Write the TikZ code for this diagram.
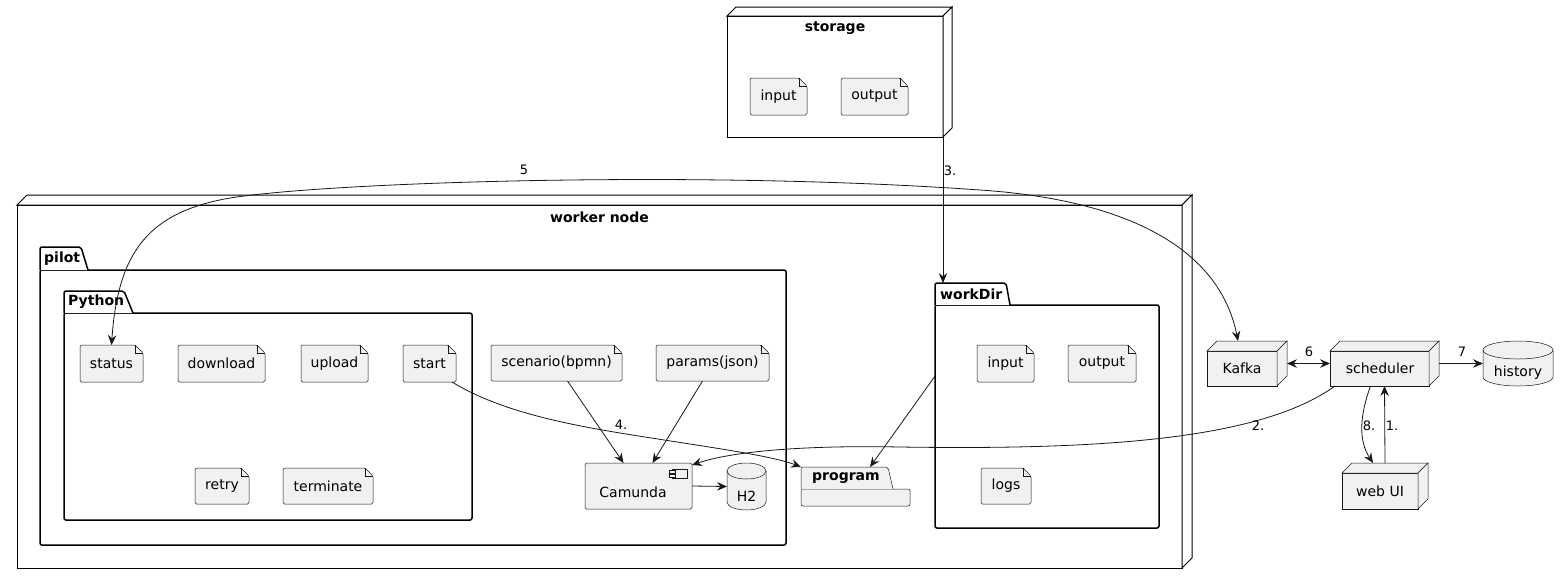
\documentclass[tikz,border=0pt]{standalone}
\usepackage{fontspec}
\setmainfont{DejaVu Sans}
\usetikzlibrary{arrows.meta,fit,calc}
\definecolor{elfill}{HTML}{F1F1F1}
\definecolor{ink}{HTML}{181818}
% named invisible box spanning an element
\newcommand\mkbox[5]{\coordinate (#1-nw) at (#2,#3); \coordinate (#1-se) at (#4,#5);
  \node[anchorbox, fit=(#1-nw)(#1-se)] (#1) {};}
% note/file with folded corner: name x1 y1 x2 y2 text
\newcommand\filenote[6]{%
  \filldraw[elshape, rounded corners=1.5pt] (#2,#3) -- (#4-8,#3) -- (#4,#3+8) -- (#4,#5) -- (#2,#5) -- cycle;
  \draw[elshape, fill=none] (#4-8,#3) -- (#4-8,#3+8) -- (#4,#3+8);
  \mkbox{#1}{#2}{#3}{#4}{#5}
  \node at (#1.center) {#6};}
% 3d node: x1 ytop(back) x2(back right) y2 depth style
\newcommand\cubeshape[6]{%
  \filldraw[#6] (#1,#2+#5) rectangle (#3-#5,#4);
  \filldraw[#6] (#1,#2+#5) -- (#1+#5,#2) -- (#3,#2) -- (#3-#5,#2+#5) -- cycle;
  \filldraw[#6] (#3-#5,#2+#5) -- (#3,#2) -- (#3,#4-#5) -- (#3-#5,#4) -- cycle;}
% database cylinder: x1 y1 x2 y2 rx ry
\newcommand\dbshape[6]{%
  \filldraw[elshape] (#1,#2+#6) -- (#1,#4-#6) arc[start angle=180,end angle=360,x radius=#5pt,y radius=#6pt]
    -- (#3,#2+#6) arc[start angle=0,end angle=180,x radius=#5pt,y radius=#6pt] -- cycle;
  \draw[elshape, fill=none] (#1,#2+#6) arc[start angle=180,end angle=360,x radius=#5pt,y radius=#6pt];}
% package: x1 ytabtop xtabtopright xtabbottomright ytabbottom x2 y2 style
\newcommand\pkgshape[8]{%
  \filldraw[#8, rounded corners=2pt] (#1,#5) -- (#6,#5) -- (#6,#7) -- (#1,#7) -- cycle;
  \filldraw[#8, rounded corners=2pt] (#1,#5) -- (#1,#2) -- (#3,#2) -- (#4,#5);}
\begin{document}
\begin{tikzpicture}[x=1pt,y=-1pt,
  every node/.style={font=\fontsize{14}{16}\selectfont, text=black},
  ttl/.style={font=\bfseries\fontsize{14}{16}\selectfont, inner sep=0pt},
  albl/.style={font=\fontsize{13}{15}\selectfont, inner sep=0pt},
  tip/.style={Stealth[length=10pt,width=8.5pt,inset=3.5pt]},
  conn/.style={draw=ink, line width=0.8pt, -{Stealth[length=10pt,width=8.5pt,inset=3.5pt]}},
  biconn/.style={draw=ink, line width=0.8pt, {Stealth[length=10pt,width=8.5pt,inset=3.5pt]}-{Stealth[length=10pt,width=8.5pt,inset=3.5pt]}},
  elshape/.style={fill=elfill, draw=ink, line width=0.5pt},
  cont/.style={fill=white, draw=black, line width=1pt},
  pkg/.style={fill=white, draw=black, line width=1.5pt},
  anchorbox/.style={inner sep=0pt, outer sep=0pt, draw=none, rectangle}
]
\fill[white] (0,0) rectangle (1568,584);
\useasboundingbox (0,0) rectangle (1568,584);

% storage node
\cubeshape{727}{7}{952}{137}{9}{cont}
\mkbox{storage}{727}{7}{952}{137}
\node[ttl] (storagettl) at (835,28) {storage};
\filenote{sinput}{750}{78}{807}{115}{input}
\filenote{soutput}{841}{78}{908}{115}{output}

% worker node
\cubeshape{17}{195}{1192}{568}{10}{cont}
\mkbox{worker}{17}{195}{1192}{568}
\node[ttl] (workerttl) at (599.5,217) {worker node};

% pilot package
\pkgshape{40}{247}{81}{88}{270}{786}{545}{pkg}
\mkbox{pilot}{40}{247}{786}{545}
\node[ttl, anchor=west] (pilotttl) at (44,258.5) {pilot};

% Python package
\pkgshape{64}{291}{124}{133}{313}{472}{520}{pkg}
\mkbox{python}{64}{291}{472}{520}
\node[ttl, anchor=west] (pythonttl) at (68,302) {Python};

\filenote{status}{80}{345}{143}{382}{status}
\filenote{download}{178}{345}{265}{382}{download}
\filenote{upload}{301}{345}{368}{382}{upload}
\filenote{start}{403}{345}{456}{382}{start}
\filenote{retry}{195}{468}{249}{504}{retry}
\filenote{terminate}{283}{468}{373}{504}{terminate}

\filenote{scenario}{491}{345}{622}{381}{scenario(bpmn)}
\filenote{params}{656}{345}{769}{381}{params(json)}

% Camunda component
\filldraw[elshape, rounded corners=1.5pt] (585,463) rectangle (692,509);
\mkbox{camunda}{585}{463}{692}{509}
\filldraw[elshape] (672,469) rectangle (687,478);
\filldraw[elshape] (669,470.5) rectangle (675,473);
\filldraw[elshape] (669,474.5) rectangle (675,477);
\node (camundatxt) at (633,492) {Camunda};

% H2 database
\dbshape{727}{463}{766}{510}{19.5}{8}
\mkbox{htwo}{727}{463}{766}{510}
\node (htwotxt) at (746.5,496) {H2};

% program package
\pkgshape{801}{467}{888}{893}{489}{910}{506}{elshape}
\mkbox{program}{801}{467}{910}{506}
\node[ttl, anchor=west] (programttl) at (812,478) {program};

% workDir package
\pkgshape{935}{283}{1006}{1010}{305}{1159}{528}{pkg}
\mkbox{workdir}{935}{283}{1159}{528}
\node[ttl, anchor=west] (workdirttl) at (940,294) {workDir};
\filenote{winput}{977}{345}{1034}{382}{input}
\filenote{woutput}{1068}{345}{1136}{382}{output}
\filenote{wlogs}{981}{468}{1031}{504}{logs}

% outside nodes
\cubeshape{1207}{341}{1287}{386}{10}{elshape}
\mkbox{kafka}{1207}{341}{1287}{386}
\node (kafkatxt) at (1242,368) {Kafka};

\cubeshape{1330}{341}{1439}{386}{10}{elshape}
\mkbox{scheduler}{1330}{341}{1439}{386}
\node (schedtxt) at (1380,368) {scheduler};

\cubeshape{1342}{463}{1428}{509}{10}{elshape}
\mkbox{webui}{1342}{463}{1428}{509}
\node (webuitxt) at (1380,491) {web UI};

\dbshape{1483}{341}{1553}{386}{35}{9}
\mkbox{history}{1483}{341}{1553}{386}
\node (historytxt) at (1518,373) {history};

% connectors
\draw[conn] ([xshift=-9pt]storage.south east) -- ([xshift=8pt]workdir.north west);
\node[albl] (l3) at (950,171) {3.};

\draw[biconn] (status.north) .. controls (118,250) and (150,212) .. (230,198)
  .. controls (330,182) and (700,170) .. (980,190)
  .. controls (1130,200) and (1220,250) .. ([xshift=-9pt]kafka.north);
\node[albl] (l5) at (524,170) {5};

\draw[biconn] (kafka.east) -- (scheduler.west);
\node[albl] (l6) at (1309,352) {6};

\draw[conn] (scheduler.east) -- (history.west);
\node[albl] (l7) at (1462,352) {7};

\draw[conn] (webui.north) -- (scheduler.south);
\node[albl] (l1) at (1392,426) {1.};

\draw[conn] ([xshift=-14pt]scheduler.south) .. controls (1360,415) and (1358,440) .. ([xshift=-12pt]webui.north);
\node[albl] (l8) at (1369,426) {8.};

\draw[conn] ([xshift=5pt]scheduler.south west) .. controls (1260,440) and (1100,450) .. (900,447)
  .. controls (800,445) and (730,452) .. ([yshift=-2pt]camunda.north east);
\node[albl] (l2) at (1258,426) {2.};

\draw[conn] ([xshift=-4pt]start.south east) .. controls (490,405) and (540,420) .. (620,433)
  .. controls (700,446) and (770,455) .. (program.north west);
\node[albl] (l4) at (621,425) {4.};

\draw[conn] ([xshift=11pt]scenario.south) -- ([xshift=-15pt]camunda.north);
\draw[conn] ([xshift=-10pt]params.south) -- ([xshift=14pt]camunda.north);
\draw[conn] (camunda.east) -- (htwo.west);
\draw[conn] ($(workdir.north west)!0.38!(workdir.south west)$) -- ([xshift=69pt]program.north west);
\end{tikzpicture}
\end{document}
